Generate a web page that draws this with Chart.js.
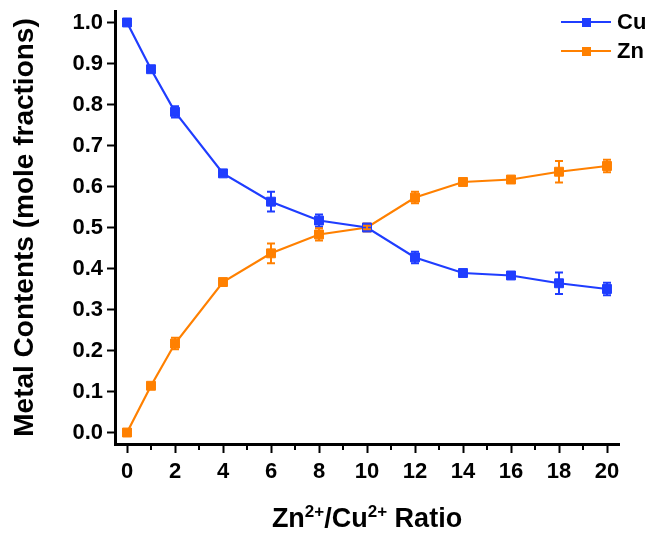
<!DOCTYPE html>
<html>
<head>
<meta charset="utf-8">
<script src="https://cdn.jsdelivr.net/npm/chart.js@4.4.1/dist/chart.umd.min.js"></script>
<style>
  html, body { margin: 0; padding: 0; background: #fff; }
</style>
</head>
<body>
<canvas id="chart" width="658" height="534"></canvas>
<script>
const ratios = [0, 1, 2, 4, 6, 8, 10, 12, 14, 16, 18, 20];
const cuValues = [1.0, 0.886, 0.782, 0.632, 0.563, 0.517, 0.5, 0.427, 0.389, 0.383, 0.364, 0.35];
const cuErrors = [0.003, 0.005, 0.014, 0.004, 0.024, 0.015, 0.004, 0.014, 0.004, 0.004, 0.026, 0.015];
const znValues = [0.0, 0.114, 0.217, 0.367, 0.437, 0.483, 0.5, 0.573, 0.611, 0.617, 0.636, 0.65];
const znErrors = [0.003, 0.005, 0.014, 0.004, 0.024, 0.015, 0.004, 0.014, 0.004, 0.004, 0.026, 0.015];
const xTickValues = [0, 2, 4, 6, 8, 10, 12, 14, 16, 18, 20];
const xMinorTicks = [1, 3, 5, 7, 9, 11, 13, 15, 17, 19];
const yTickValues = [0, 0.1, 0.2, 0.3, 0.4, 0.5, 0.6, 0.7, 0.8, 0.9, 1.0];

const FONT = "'Liberation Sans', Arial, sans-serif";
const BLUE = "#1f3dff";
const ORANGE = "#ff8000";

const toPoints = (values) => ratios.map((r, i) => ({ x: r, y: values[i] }));

// vertical error bars with caps
const errorBars = {
  id: "errorBars",
  afterDatasetsDraw(chart) {
    const { ctx, scales } = chart;
    chart.data.datasets.forEach((ds) => {
      ctx.save();
      ctx.strokeStyle = ds.borderColor;
      ctx.lineWidth = 2;
      ds.data.forEach((p, i) => {
        const err = ds.errors[i];
        const x = scales.x.getPixelForValue(p.x);
        const top = scales.y.getPixelForValue(p.y + err);
        const bottom = scales.y.getPixelForValue(p.y - err);
        ctx.beginPath();
        ctx.moveTo(x, top);
        ctx.lineTo(x, bottom);
        ctx.moveTo(x - 4, top);
        ctx.lineTo(x + 4, top);
        ctx.moveTo(x - 4, bottom);
        ctx.lineTo(x + 4, bottom);
        ctx.stroke();
      });
      ctx.restore();
    });
  },
};

// short minor ticks on the x axis
const minorTicks = {
  id: "minorTicks",
  afterDraw(chart) {
    const { ctx, scales, chartArea } = chart;
    ctx.save();
    ctx.strokeStyle = "#000";
    ctx.lineWidth = 2;
    xMinorTicks.forEach((v) => {
      const x = Math.round(scales.x.getPixelForValue(v));
      ctx.beginPath();
      ctx.moveTo(x, chartArea.bottom);
      ctx.lineTo(x, chartArea.bottom + 6);
      ctx.stroke();
    });
    ctx.restore();
  },
};

// x title with superscripts
const xTitle = {
  id: "xTitle",
  afterDraw(chart) {
    const { ctx, chartArea } = chart;
    const parts = [
      { t: "Zn", sup: false },
      { t: "2+", sup: true },
      { t: "/Cu", sup: false },
      { t: "2+", sup: true },
      { t: " Ratio", sup: false },
    ];
    const big = "bold 27px " + FONT;
    const small = "bold 17px " + FONT;
    ctx.save();
    ctx.fillStyle = "#000";
    ctx.textBaseline = "alphabetic";
    let total = 0;
    parts.forEach((p) => {
      ctx.font = p.sup ? small : big;
      p.w = ctx.measureText(p.t).width;
      total += p.w;
    });
    let x = (chartArea.left + chartArea.right) / 2 - total / 2;
    const base = 527;
    parts.forEach((p) => {
      ctx.font = p.sup ? small : big;
      ctx.fillText(p.t, x, p.sup ? base - 10 : base);
      x += p.w;
    });
    ctx.restore();
  },
};

// legend: line + square marker + label
const lineLegend = {
  id: "lineLegend",
  afterDraw(chart) {
    const { ctx } = chart;
    ctx.save();
    chart.data.datasets.forEach((ds, i) => {
      const y = 22 + i * 29;
      ctx.strokeStyle = ds.borderColor;
      ctx.lineWidth = 2;
      ctx.beginPath();
      ctx.moveTo(561, y);
      ctx.lineTo(611, y);
      ctx.stroke();
      ctx.fillStyle = ds.borderColor;
      ctx.fillRect(582, y - 4, 9, 9);
      ctx.fillStyle = "#000";
      ctx.font = "bold 22px " + FONT;
      ctx.textBaseline = "middle";
      ctx.fillText(ds.label, 617, y + 1);
    });
    ctx.restore();
  },
};

const commonDataset = {
  showLine: true,
  tension: 0,
  borderWidth: 2.2,
  pointStyle: "rect",
  pointRadius: 6.3,
  pointBorderWidth: 1,
  clip: false,
};

new Chart(document.getElementById("chart"), {
  type: "scatter",
  data: {
    datasets: [
      {
        ...commonDataset,
        label: "Cu",
        data: toPoints(cuValues),
        errors: cuErrors,
        borderColor: BLUE,
        backgroundColor: BLUE,
      },
      {
        ...commonDataset,
        label: "Zn",
        data: toPoints(znValues),
        errors: znErrors,
        borderColor: ORANGE,
        backgroundColor: ORANGE,
      },
    ],
  },
  options: {
    responsive: false,
    animation: false,
    devicePixelRatio: 1,
    layout: { padding: { top: 11, right: 39, left: 0, bottom: 0 } },
    plugins: {
      legend: { display: false },
      tooltip: { enabled: false },
    },
    scales: {
      x: {
        type: "linear",
        min: -0.5,
        max: 20.5,
        afterBuildTicks: (s) => {
          s.ticks = xTickValues.map((v) => ({ value: v }));
        },
        afterFit: (s) => {
          s.height = 90;
          s.paddingLeft = 0;
          s.paddingRight = 0;
        },
        grid: { drawOnChartArea: false, tickLength: 9, tickWidth: 2, tickColor: "#000" },
        border: { color: "#000", width: 3 },
        ticks: {
          color: "#000",
          padding: 6,
          maxRotation: 0,
          autoSkip: false,
          font: { family: FONT, size: 22, weight: "bold" },
        },
      },
      y: {
        min: -0.028,
        max: 1.028,
        afterBuildTicks: (s) => {
          s.ticks = yTickValues.map((v) => ({ value: v }));
        },
        afterFit: (s) => {
          s.width = 115;
          s.paddingTop = 0;
          s.paddingBottom = 0;
        },
        grid: { drawOnChartArea: false, tickLength: 8, tickWidth: 2, tickColor: "#000" },
        border: { color: "#000", width: 3 },
        ticks: {
          color: "#000",
          padding: 4,
          callback: (v) => v.toFixed(1),
          font: { family: FONT, size: 22, weight: "bold" },
        },
        title: {
          display: true,
          text: "Metal Contents (mole fractions)",
          color: "#000",
          padding: { top: 8, bottom: 0 },
          font: { family: FONT, size: 28, weight: "bold" },
        },
      },
    },
  },
  plugins: [errorBars, minorTicks, xTitle, lineLegend],
});
</script>
</body>
</html>
